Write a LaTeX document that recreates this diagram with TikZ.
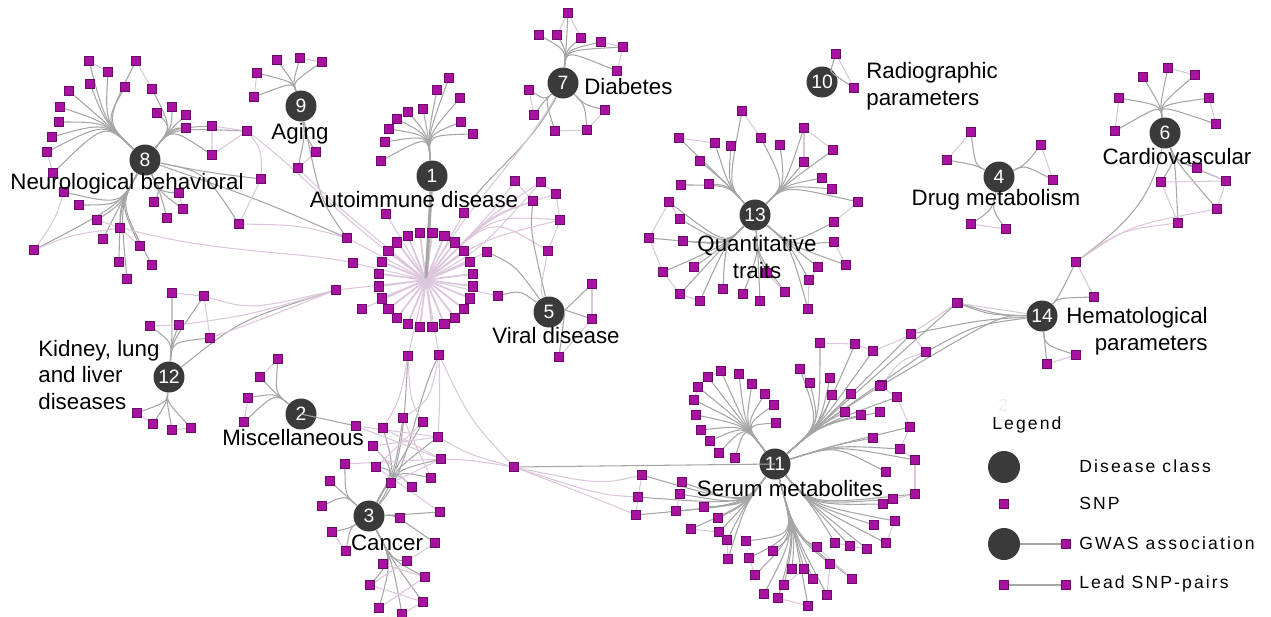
\documentclass[tikz,border=0pt]{standalone}
\usepackage{fontspec}
\setmainfont{Liberation Sans}
\newfontfamily\legfont[LetterSpace=12]{Liberation Sans}
\usetikzlibrary{calc}
\definecolor{snpfill}{RGB}{168,18,160}
\definecolor{snpline}{RGB}{110,10,105}
\definecolor{hubfill}{RGB}{58,58,58}
\definecolor{edgegray}{RGB}{165,165,165}
\definecolor{edgepink}{RGB}{220,198,220}
\tikzset{
 snp/.style={rectangle,fill=snpfill,draw=snpline,line width=0.3pt,minimum size=0.185cm,inner sep=0pt},
 hub/.style={circle,fill=hubfill,minimum size=0.62cm,inner sep=0pt,text=white,font=\fontsize{11}{11}\selectfont},
 lbl/.style={font=\fontsize{12.7}{15.1}\selectfont,inner sep=0pt},
 gw/.style={draw=edgegray,line width=0.6pt},
 pk/.style={draw=edgepink,line width=0.6pt},
 leg/.style={font=\legfont\fontsize{10}{12}\selectfont,anchor=west,inner sep=0pt},
}
\def\allsnps{}
\newcommand\snpnodes[2]{\foreach \x/\y [count=\i] in {#2}{\node[snp] (#1-\i) at (\x,\y) {};}}
\newcommand\snpgroup[5]{%
 \foreach \x/\y [count=\i] in {#5}{%
  \coordinate (#4-\i) at (\x,\y);
  \draw[#1] (#2) .. controls (#3) .. (#4-\i);
 }%
 \expandafter\gdef\expandafter\allsnps\expandafter{\allsnps\snpnodes{#4}{#5}}%
}
\begin{document}
\begin{tikzpicture}[x=0.02cm,y=-0.02cm]
\useasboundingbox (0,0) rectangle (1271,616);
% hubs
\node[hub] (h1) at (432,176) {1};
\node[hub] (h2) at (301,414) {2};
\node[hub] (h3) at (369,516) {3};
\node[hub] (h4) at (999,177) {4};
\node[hub] (h5) at (549,312) {5};
\node[hub] (h6) at (1165,133) {6};
\node[hub] (h7) at (563,83) {7};
\node[hub] (h8) at (145,160) {8};
\node[hub] (h9) at (301,106) {9};
\node[hub] (h10) at (822,82) {10};
\node[hub] (h11) at (775,464) {11};
\node[hub] (h12) at (169,377) {12};
\node[hub] (h13) at (755,215) {13};
\node[hub] (h14) at (1042,316) {14};
% hub 8
\coordinate (b8a) at (105,122);
\snpgroup{gw}{h8}{b8a}{g8a}{89/61,108/72,90/84,69/91,60/107,59/122,52/137,47/152,136/61,125/87,53/173}
\coordinate (b8b) at (172,128);
\snpgroup{gw}{h8}{b8b}{g8b}{152/89,157/113,172/107,186/115,186/128,212/126,247/131,212/155}
\coordinate (b8c) at (205,172);
\snpgroup{gw}{h8}{b8c}{g8c}{261/179,239/224}
\coordinate (b8d) at (160,192);
\snpgroup{gw}{h8}{b8d}{g8d}{179/193,154/202,183/209,167/218}
\coordinate (b8e) at (120,205);
\snpgroup{gw}{h8}{b8e}{g8e}{64/192,79/205,97/220,120/228,103/239,140/246,119/262,152/265,127/279,34/250}
% hub 9
\coordinate (b9a) at (293,82);
\snpgroup{gw}{h9}{b9a}{g9a}{257/73,277/60,300/58,322/62,254/97}
\coordinate (b9b) at (305,135);
\snpgroup{gw}{h9}{b9b}{g9b}{316/152,298/168}
% hub 1
\coordinate (rc) at (426,280);
\coordinate (b1a) at (428,135);
\snpgroup{gw}{h1}{b1a}{g1a}{449/78,437/90,460/98,423/109,408/112,397/119,389/129,461/122,473/134,385/142,381/161}
\foreach \k in {1,...,24}{%
 \pgfmathsetmacro\ang{15*\k-7.5}
 \coordinate (r\k) at ({426+47.5*cos(\ang)},{280+47.5*sin(\ang)});
 \draw[pk,line width=1pt] (rc) -- (r\k);
}
\snpgroup{pk}{rc}{rc}{g1b}{386/214,464/213,347/238,353/263,336/290,362/309,487/252,498/296,408/356,439/355}
\coordinate (b1c) at (490,215);
\snpgroup{pk}{rc}{b1c}{g1c}{515/181,541/182,556/194,533/201,560/220,548/251}
% hub 7
\coordinate (b7a) at (566,50);
\snpgroup{gw}{h7}{b7a}{g7a}{568/13,539/35,557/35,581/38,601/42,623/47,617/71}
\coordinate (b7b) at (545,100);
\snpgroup{gw}{h7}{b7b}{g7b}{529/90,534/115,555/131}
\coordinate (b7c) at (585,105);
\snpgroup{gw}{h7}{b7c}{g7c}{587/130,605/110}
% hub 5
\coordinate (b5) at (565,310);
\snpgroup{gw}{h5}{b5}{g5}{592/284,592/319,559/357}
% hub 10
\coordinate (b10) at (830,72);
\snpgroup{gw}{h10}{b10}{g10}{836/54,854/88}
% hub 13
\coordinate (b13a) at (728,185);
\snpgroup{gw}{h13}{b13a}{g13a}{742/111,679/138,715/143,731/146,700/161,681/185,709/184}
\coordinate (b13b) at (785,185);
\snpgroup{gw}{h13}{b13b}{g13b}{761/138,780/145,804/128,833/150,804/162,822/178,832/189,858/202}
\coordinate (b13c) at (725,245);
\snpgroup{gw}{h13}{b13c}{g13c}{669/202,680/219,649/238,683/241,663/272,694/267,680/294,700/301,723/289}
\coordinate (b13d) at (758,255);
\snpgroup{gw}{h13}{b13d}{g13d}{743/294,760/301,767/273,785/292}
\coordinate (b13e) at (790,245);
\snpgroup{gw}{h13}{b13e}{g13e}{834/222,834/242,818/267,846/265,809/280,808/309}
% hub 4
\coordinate (b4a) at (975,165);
\snpgroup{gw}{h4}{b4a}{g4a}{971/132,947/160}
\coordinate (b4b) at (1025,165);
\snpgroup{gw}{h4}{b4b}{g4b}{1041/145,1053/180}
\coordinate (b4c) at (992,210);
\snpgroup{gw}{h4}{b4c}{g4c}{971/224,1006/229}
% hub 6
\coordinate (b6a) at (1160,105);
\snpgroup{gw}{h6}{b6a}{g6a}{1143/77,1168/68,1195/75,1119/98,1209/98,1216/124,1115/131}
\coordinate (b6b) at (1175,160);
\snpgroup{gw}{h6}{b6b}{g6b}{1197/168,1161/182,1226/181,1217/209,1178/223}
% hub 14
\coordinate (b14a) at (1058,298);
\snpgroup{gw}{h14}{b14a}{g14a}{1076/262,1094/297}
\coordinate (b14b) at (1045,345);
\snpgroup{gw}{h14}{b14b}{g14b}{1076/355,1047/364}
\coordinate (b14c) at (1000,315);
\snpgroup{gw}{h14}{b14c}{g14c}{958/303,882/385}
% hub 11
\coordinate (b11a) at (745,425);
\snpgroup{gw}{h11}{b11a}{g11a}{708/377,721/371,739/374,752/384,765/394,774/405,776/423,698/387,694/400,696/415,701/430,710/441,719/453,735/458}
\coordinate (b11b) at (820,425);
\snpgroup{gw}{h11}{b11b}{g11b}{820/343,855/344,873/351,800/369,810/383,830/378,832/395,851/394,880/386,897/397,845/412,861/415,880/412,911/334,926/352,957/303}
\coordinate (b11c) at (835,445);
\snpgroup{gw}{h11}{b11c}{g11c}{910/427,873/438,900/449,915/460,886/472}
\coordinate (b11d) at (812,505);
\snpgroup{gw}{h11}{b11d}{g11d}{915/494,893/499,883/504,895/521,874/525,886/543,867/549,850/546,835/543}
\coordinate (b11e) at (795,535);
\snpgroup{gw}{h11}{b11e}{g11e}{817/547,830/564,852/579,827/595,808/606,813/579,804/569,792/569,784/585,778/598,764/594,755/575,773/551,749/558,746/541}
\coordinate (b11f) at (745,505);
\snpgroup{gw}{h11}{b11f}{g11f}{728/559,727/540,719/532,718/518,691/529,704/507,676/511,680/494,682/482,642/475,638/497,636/515}
\snpgroup{gw}{h11}{h11}{g11g}{514/467}
% hub 12
\coordinate (b12a) at (172,342);
\snpgroup{gw}{h12}{b12a}{g12a}{172/293,204/296,150/326,179/325,210/338}
\coordinate (b12b) at (167,402);
\snpgroup{gw}{h12}{b12b}{g12b}{137/413,153/424,172/430,191/428}
% hub 2
\coordinate (b2a) at (275,393);
\snpgroup{gw}{h2}{b2a}{g2a}{278/359,260/377,248/398,244/422}
\snpgroup{gw}{h2}{h2}{g2b}{356/426}
% hub 3
\coordinate (b3a) at (345,495);
\snpgroup{gw}{h3}{b3a}{g3a}{345/464,330/481,322/506}
\coordinate (b3b) at (350,528);
\snpgroup{gw}{h3}{b3b}{g3b}{332/532,346/551}
\coordinate (b3c) at (395,470);
\snpgroup{gw}{h3}{b3c}{g3c}{383/428,403/418,423/422,373/446,438/437,441/459,376/467,431/478,391/483,412/487}
\coordinate (b3d) at (395,515);
\snpgroup{gw}{h3}{b3d}{g3d}{440/512,400/518,435/543}
\coordinate (b3e) at (392,560);
\snpgroup{gw}{h3}{b3e}{g3e}{383/564,407/561,425/577,370/585,423/602,379/608,402/614}
% extra connectors
\draw[gw,line width=1.8pt] (h1) -- (rc);
\draw[gw] (h8) .. controls (260,200) .. (g1b-3);
\draw[gw] (h9) .. controls (320,200) .. (g1b-3);
\draw[gw] (h12) .. controls (240,320) .. (g1b-5);
\draw[gw] (h5) .. controls (520,290) .. (g1b-8);
\draw[gw] (h5) .. controls (515,265) .. (g1b-7);
\draw[gw] (h5) .. controls (530,230) .. (g1c-4);
\draw[gw] (h3) .. controls (405,470) and (405,400) .. (g1b-9);
\draw[gw] (h3) .. controls (410,470) and (415,400) .. (g1b-10);
\draw[gw] (h14) .. controls (990,315) .. (g11b-16);
\draw[gw] (h14) .. controls (980,320) .. (g11b-14);
\draw[gw] (h14) .. controls (975,325) .. (g11b-15);
\draw[gw] (h6) .. controls (1150,210) and (1110,235) .. (g14a-1);
\draw[gw] (h7) .. controls (530,150) and (480,180) .. (g1b-2);
\draw[pk] (h7) .. controls (520,160) and (470,200) .. (rc);
% pink SNP pairs
\draw[pk] (g8a-9) -- (g8b-1);
\draw[pk] (g8b-6) -- (g8b-7) -- (g8b-8) -- (g8b-6);
\draw[pk] (g8b-7) .. controls (262,150) .. (g8c-1);
\draw[pk] (g8c-1) -- (g8c-2);
\draw[pk] (g8c-2) .. controls (300,225) .. (g1b-3);
\draw[pk] (g8b-7) .. controls (300,170) and (340,220) .. (rc);
\draw[pk] (g8e-10) .. controls (70,235) .. (g8e-4);
\draw[pk] (g8e-1) .. controls (55,220) .. (g8e-10);
\draw[pk] (g8a-8) -- (g8a-11);
\draw[pk] (g8e-4) -- (g8e-6);
\draw[pk] (g8d-1) -- (g8d-3);
\draw[pk] (g8a-1) -- (g8a-2);
\draw[pk] (g8e-3) .. controls (200,255) and (300,250) .. (g1b-4);
\draw[pk] (g9a-1) -- (g9a-5);
\draw[pk] (g9a-3) -- (g9a-4);
\draw[pk] (g9b-1) -- (g9b-2);
\draw[pk] (g9b-2) .. controls (330,200) .. (rc);
\draw[pk] (g7a-1) -- (g7a-3);
\draw[pk] (g7a-1) -- (g7a-4);
\draw[pk] (g7a-5) -- (g7a-6) -- (g7a-7);
\draw[pk] (g7b-1) -- (g7b-2);
\draw[pk] (g7b-3) -- (g7c-1) -- (g7c-2);
\draw[pk] (g1c-1) -- (g1c-4);
\draw[pk] (g1c-2) -- (g1c-3) -- (g1c-5) -- (g1c-6);
\draw[pk] (g1c-6) .. controls (540,290) .. (h5);
\draw[pk] (rc) .. controls (480,250) .. (g1c-2);
\draw[pk] (rc) .. controls (480,240) .. (g1c-5);
\draw[pk] (g5-1) -- (g5-2);
\draw[pk] (g5-2) -- (g5-3);
\draw[pk] (g12a-1) -- (g12a-2);
\draw[pk] (g12a-3) -- (g12a-4);
\draw[pk] (g12a-2) -- (g12a-5);
\draw[pk] (g12a-2) .. controls (250,310) .. (g1b-5);
\draw[pk] (g12a-5) .. controls (260,320) .. (g1b-5);
\draw[pk] (g12a-4) .. controls (250,315) .. (g1b-5);
\draw[pk] (g12b-1) -- (g12b-2);
\draw[pk] (g12b-3) -- (g12b-4);
\draw[pk] (g2a-3) -- (g2a-4);
\draw[pk] (g2a-1) -- (g2a-2);
\draw[pk] (g1b-9) .. controls (400,400) .. (g3c-1);
\draw[pk] (g1b-9) .. controls (410,400) .. (g3c-3);
\draw[pk] (g1b-10) .. controls (430,400) .. (g3c-2);
\draw[pk] (g1b-10) .. controls (440,400) .. (g3c-5);
\draw[pk] (g3c-1) -- (g3c-6);
\draw[pk] (g3c-4) -- (g3c-5);
\draw[pk] (g3c-2) -- (g3c-8);
\draw[pk] (g3c-3) -- (g3c-7);
\draw[pk] (g3c-4) -- (g3c-10);
\draw[pk] (g3c-9) -- (g3c-6);
\draw[pk] (g2b-1) -- (g3c-6);
\draw[pk] (g2b-1) -- (g3c-5);
\draw[pk] (g3c-7) -- (g3d-1);
\draw[pk] (g3a-1) -- (g3c-6);
\draw[pk] (g3d-3) -- (g3e-2);
\draw[pk] (g3e-1) -- (g3e-3);
\draw[pk] (g3e-2) -- (g3e-4);
\draw[pk] (g3e-4) -- (g3e-5);
\draw[pk] (g3e-6) -- (g3e-3);
\draw[pk] (g3e-7) -- (g3e-5);
\draw[pk] (g3b-1) -- (g3b-2);
\draw[pk] (g1b-10) .. controls (470,420) .. (g11g-1);
\draw[pk] (g11g-1) .. controls (470,460) .. (g3c-6);
\draw[pk] (g11g-1) .. controls (470,455) .. (g3c-5);
\draw[pk] (g11g-1) .. controls (600,485) .. (g11f-10);
\draw[pk] (g11g-1) .. controls (600,495) .. (g11f-11);
\draw[pk] (g11g-1) .. controls (600,500) .. (g11f-12);
\draw[pk] (g11f-10) -- (g11f-11) -- (g11f-12);
\draw[pk] (g11f-9) -- (g11f-8) -- (g11f-7);
\draw[pk] (g11f-5) -- (g11f-3);
\draw[pk] (g11f-1) -- (g11f-2);
\draw[pk] (g11e-1) -- (g11e-3);
\draw[pk] (g11e-5) -- (g11e-10);
\draw[pk] (g11e-12) -- (g11e-14);
\draw[pk] (g11e-7) -- (g11e-9);
\draw[pk] (g11e-2) -- (g11e-4);
\draw[pk] (g11d-1) -- (g11d-2);
\draw[pk] (g11d-4) -- (g11d-6);
\draw[pk] (g11d-7) -- (g11d-9);
\draw[pk] (g11c-1) -- (g11c-3) -- (g11c-4);
\draw[pk] (g11c-4) -- (g11d-1);
\draw[pk] (g11b-1) -- (g11b-2) -- (g11b-3);
\draw[pk] (g11b-4) -- (g11b-5);
\draw[pk] (g11b-9) -- (g11b-10) -- (g11c-1);
\draw[pk] (g11b-14) -- (g11b-15);
\draw[pk] (g11b-14) -- (g11b-16);
\draw[pk] (g11b-16) -- (h14);
\draw[pk] (g11b-3) .. controls (900,340) .. (g11b-14);
\draw[pk] (g11a-1) -- (g11a-2);
\draw[pk] (g11a-8) -- (g11a-9);
\draw[pk] (g11a-12) -- (g11a-13);
\draw[pk] (g14a-1) -- (g14a-2);
\draw[pk] (g14b-1) -- (g14b-2);
\draw[pk] (g14c-2) .. controls (900,360) .. (g11b-15);
\draw[pk] (g14a-1) .. controls (1120,230) .. (g6b-5);
\draw[pk] (g14a-1) .. controls (1130,225) .. (g6b-4);
\draw[pk] (g6a-4) -- (g6a-7);
\draw[pk] (g6a-2) -- (g6a-3);
\draw[pk] (g6a-5) -- (g6a-6);
\draw[pk] (g6b-2) -- (g6b-3) -- (g6b-4);
\draw[pk] (g6b-2) -- (g6b-5);
\draw[pk] (g6b-1) -- (g6b-3);
\draw[pk] (g4a-1) -- (g4a-2);
\draw[pk] (g4b-1) -- (g4b-2);
\draw[pk] (g4c-1) -- (g4c-2);
\draw[pk] (g10-1) -- (g10-2);
\draw[pk] (g13a-2) -- (g13a-3);
\draw[pk] (g13a-1) -- (g13b-1);
\draw[pk] (g13b-3) -- (g13b-4);
\draw[pk] (g13b-3) -- (g13b-5);
\draw[pk] (g13b-8) -- (g13e-1);
\draw[pk] (g13c-1) -- (g13c-2);
\draw[pk] (g13c-3) -- (g13c-1);
\draw[pk] (g13c-3) -- (g13c-5);
\draw[pk] (g13c-5) -- (g13c-7) -- (g13c-8);
\draw[pk] (g13e-3) -- (g13e-5);
\draw[pk] (g13e-4) -- (g13e-2);
\draw[pk] (g13e-5) -- (g13e-6);
\draw[pk] (g13d-3) -- (g13d-4);
% SNP squares, drawn over the connectors
\allsnps
\foreach \k in {1,...,24}{%
 \pgfmathsetmacro\ang{15*\k-7.5}
 \node[snp] (r\k) at ({426+47.5*cos(\ang)},{280+47.5*sin(\ang)}) {};
}
% labels
\node[lbl] (l8) at (127,184) {Neurological behavioral};
\node[lbl] (l9) at (300,134) {Aging};
\node[lbl] (l1) at (414,200) {Autoimmune disease};
\node[lbl,anchor=west] (l7) at (584,87) {Diabetes};
\node[lbl,anchor=west,align=left] (l10) at (866,86) {Radiographic\\parameters};
\node[lbl] (l6) at (1177,157) {Cardiovascular};
\node[lbl] (l4) at (996,200) {Drug metabolism};
\node[lbl,align=center] (l13) at (757,257) {Quantitative\\traits};
\node[lbl] (l5) at (556,336) {Viral disease};
\node[lbl,anchor=east,align=right] (l14) at (1208,331) {Hematological\\parameters};
\node[lbl,anchor=west,align=left] (l12) at (38,375) {Kidney, lung\\and liver\\diseases};
\node[lbl] (l2) at (293,438) {Miscellaneous};
\node[lbl] (l3) at (387,543) {Cancer};
\node[lbl] (l11) at (790,489) {Serum metabolites};
% legend
\node[leg,text=black!7] (ghost) at (998,405) {2};
\node[leg] (lt0) at (992,425) {Legend};
\node[hub,minimum size=0.64cm] (lg1) at (1004,467) {};
\node[leg] (lt1) at (1079,466) {Disease class};
\node[snp] (lg2) at (1004,504) {};
\node[leg] (lt2) at (1079,503) {SNP};
\node[hub,minimum size=0.64cm] (lg3) at (1004,544) {};
\node[snp] (lg4) at (1066,544) {};
\draw[gw] (lg3) -- (lg4);
\node[leg] (lt3) at (1079,543) {GWAS association};
\node[snp] (lg5) at (1004,585) {};
\node[snp] (lg6) at (1066,585) {};
\draw[gw] (lg5) -- (lg6);
\node[leg] (lt4) at (1079,584) {Lead SNP-pairs};
\end{tikzpicture}
\end{document}
